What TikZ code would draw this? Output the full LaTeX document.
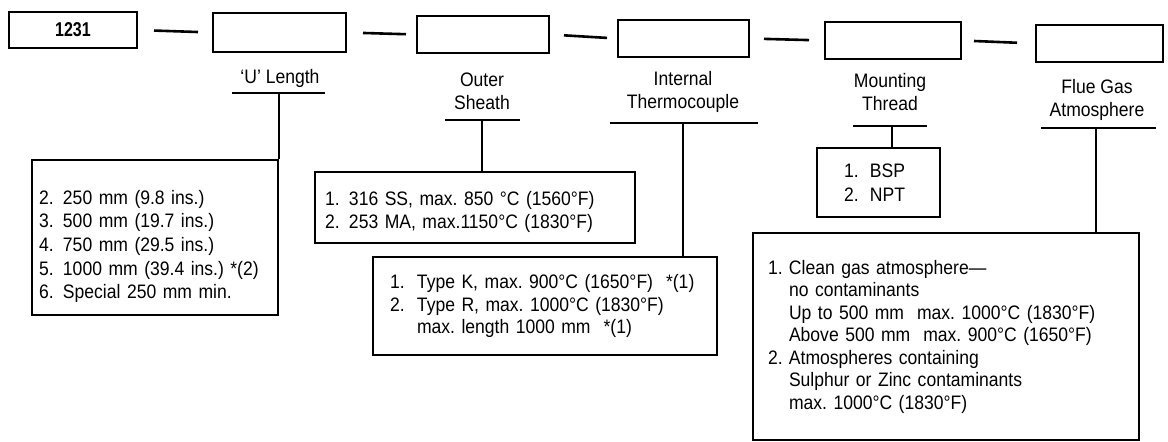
\documentclass[tikz,border=0pt]{standalone}
\usepackage{fontspec}
\setmainfont[FakeStretch=0.9]{Liberation Sans}
\newfontfamily\numfont[FakeStretch=0.8]{Liberation Sans}
\newcommand{\nm}[2]{\makebox[#1][l]{#2}}
\frenchspacing
\begin{document}
\begin{tikzpicture}[x=1pt,y=-1pt,line width=2pt,
  every node/.style={font=\fontsize{19.5}{23}\selectfont},
  topbox/.style={draw,inner sep=0pt,line width=2pt},
  optbox/.style={draw,align=left,inner ysep=0pt,line width=2pt},
  lbl/.style={align=center,inner sep=0pt},
  dashline/.style={line width=2.6pt},
  uline/.style={line width=2.2pt},
  conn/.style={line width=1.8pt}]
\useasboundingbox (0,0) rectangle (1168,442);
% top row boxes
\node[topbox,minimum width=128pt,minimum height=36pt,font=\numfont\bfseries\fontsize{20}{24}\selectfont] (b1) at (73,30) {1231};
\node[topbox,minimum width=133pt,minimum height=39pt] (b2) at (279.5,32.5) {};
\node[topbox,minimum width=132pt,minimum height=37pt] (b3) at (483,34.5) {};
\node[topbox,minimum width=131pt,minimum height=37pt] (b4) at (683.5,38.5) {};
\node[topbox,minimum width=136pt,minimum height=37pt] (b5) at (893,40.5) {};
\node[topbox,minimum width=127pt,minimum height=37pt] (b6) at (1099.5,43.5) {};
% dashes between boxes
\draw[dashline,shorten <=16pt,shorten >=14pt] (b1.east) -- (b2.west);
\draw[dashline,shorten <=16pt,shorten >=10pt] (b2.east) -- (b3.west);
\draw[dashline,shorten <=14pt,shorten >=10pt] (b3.east) -- (b4.west);
\draw[dashline,shorten <=14pt,shorten >=15pt] (b4.east) -- (b5.west);
\draw[dashline,shorten <=12pt,shorten >=18pt] (b5.east) -- (b6.west);
% labels
\node[lbl] (l1) at (280,78) {`U' Length};
\node[lbl] (l2) at (482,91.5) {Outer\\Sheath};
\node[lbl] (l3) at (683,91.5) {Internal\\Thermocouple};
\node[lbl] (l4) at (890,92.5) {Mounting\\Thread};
\node[lbl] (l5) at (1097,100) {Flue Gas\\Atmosphere};
% option boxes
\node[optbox,minimum width=246pt,minimum height=155pt,text width=232pt,inner xsep=7pt,
  font=\fontsize{19.5}{23.7}\selectfont] (o1) at (155,237.5) {%
  \rule{0pt}{32pt}\nm{24pt}{2.}250 mm (9.8 ins.)\\
  \nm{24pt}{3.}500 mm (19.7 ins.)\\
  \nm{24pt}{4.}750 mm (29.5 ins.)\\
  \nm{24pt}{5.}1000 mm (39.4 ins.) *(2)\\
  \nm{24pt}{6.}Special 250 mm min.};
\node[optbox,minimum width=320pt,minimum height=71pt,text width=300pt,inner xsep=10pt] (o2) at (475,207.5) {%
  \rule{0pt}{24pt}\nm{24pt}{1.}316 SS, max. 850 °C (1560°F)\\
  \nm{24pt}{2.}253 MA, max.1150°C (1830°F)};
\node[optbox,minimum width=344pt,minimum height=98pt,text width=310pt,inner xsep=17pt,
  font=\fontsize{19.5}{22.5}\selectfont] (o3) at (545,306) {%
  \nm{27pt}{1.}Type K, max. 900°C (1650°F) \ *(1)\\
  \nm{27pt}{2.}Type R, max. 1000°C (1830°F)\\
  \nm{27pt}{}max. length 1000 mm \ *(1)};
\node[optbox,minimum width=123pt,minimum height=69pt,text width=69pt,inner xsep=27pt,
  font=\fontsize{19.5}{24}\selectfont] (o4) at (878.5,182.5) {%
  \nm{26pt}{1.}BSP\\
  \nm{26pt}{2.}NPT};
\node[optbox,minimum width=386pt,minimum height=207pt,text width=356pt,inner xsep=15pt,
  font=\fontsize{19.5}{22.5}\selectfont] (o5) at (946,336.5) {%
  \nm{21pt}{1.}Clean gas atmosphere—\\
  \nm{21pt}{}no contaminants\\
  \nm{21pt}{}Up to 500 mm \ max. 1000°C (1830°F)\\
  \nm{21pt}{}Above 500 mm \ max. 900°C (1650°F)\\
  \nm{21pt}{2.}Atmospheres containing\\
  \nm{21pt}{}Sulphur or Zinc contaminants\\
  \nm{21pt}{}max. 1000°C (1830°F)};
% underlines and drop lines
\coordinate (u1a) at (232,93);  \coordinate (u1b) at (325,93);  \coordinate (u1m) at (279,93);
\coordinate (u2a) at (445,120); \coordinate (u2b) at (520,120); \coordinate (u2m) at (482,120);
\coordinate (u3a) at (610,123); \coordinate (u3b) at (758,123); \coordinate (u3m) at (683,123);
\coordinate (u4a) at (853,126); \coordinate (u4b) at (927,126); \coordinate (u4m) at (892,126);
\coordinate (u5a) at (1041,128);\coordinate (u5b) at (1156,128);\coordinate (u5m) at (1096,128);
\draw[uline] (u1a) -- (u1b);
\draw[uline] (u2a) -- (u2b);
\draw[uline] (u3a) -- (u3b);
\draw[uline] (u4a) -- (u4b);
\draw[uline] (u5a) -- (u5b);
\draw[conn] (u1m) -- (u1m |- o1.north);
\draw[conn] (u2m) -- (u2m |- o2.north);
\draw[conn] (u3m) -- (u3m |- o3.north);
\draw[conn] (u4m) -- (u4m |- o4.north);
\draw[conn] (u5m) -- (u5m |- o5.north);
\end{tikzpicture}
\end{document}
